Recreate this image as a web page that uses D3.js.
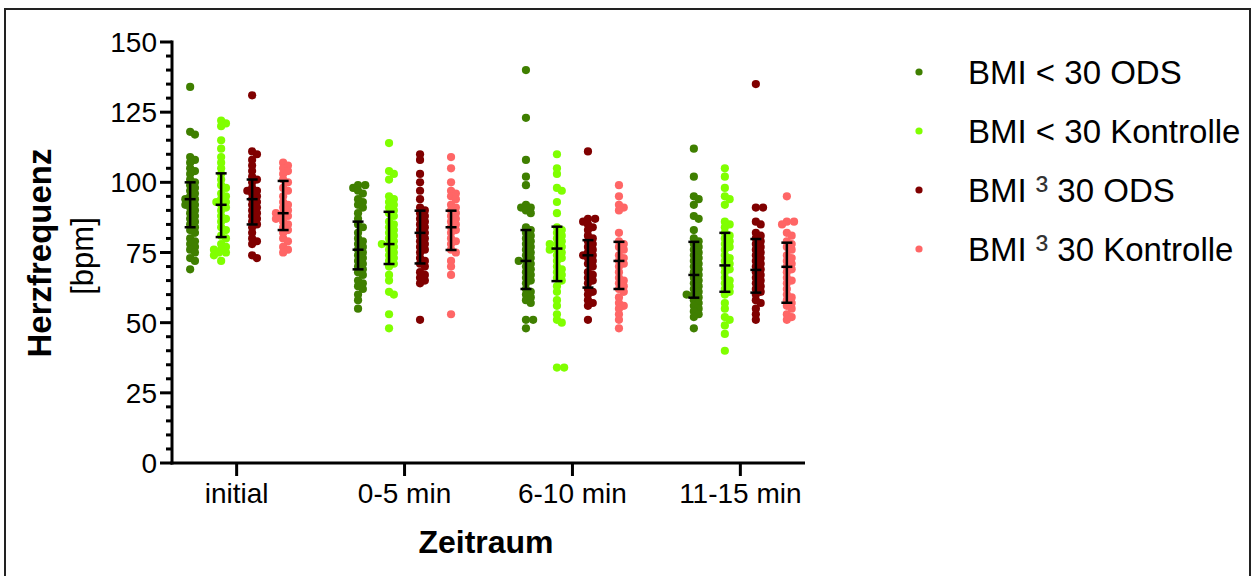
<!DOCTYPE html>
<html>
<head>
<meta charset="utf-8">
<script src="https://cdn.jsdelivr.net/npm/d3@7"></script>
<style>
  body { margin: 0; background: #fff; }
  svg { display: block; font-family: 'Liberation Sans', Arial, sans-serif; }
</style>
</head>
<body>
<div id="vis"></div>
<script>
// categories and series
var periods = ['initial', '0-5 min', '6-10 min', '11-15 min'];
var seriesNames = ['BMI < 30 ODS', 'BMI < 30 Kontrolle', 'BMI \u00B3 30 ODS', 'BMI \u00B3 30 Kontrolle'];
var seriesColors = ['#3f7f00', '#80ff00', '#800000', '#ff6666'];
var yTicks = [0, 25, 50, 75, 100, 125, 150];

// heart rate values (bpm), one array per series, one list per period
var bmiLowOds = [
  [134, 118, 117, 109, 108, 107, 105, 104, 103, 101, 100, 99, 98, 97, 96, 95, 94, 94, 93, 92, 92, 91, 90, 89, 88, 87, 86, 85, 84, 83, 82, 80, 79, 78, 77, 76, 75, 73, 72, 69],
  [99, 99, 98, 97, 96, 94, 93, 92, 91, 89, 87, 85, 84, 82, 80, 79, 78, 77, 76, 75, 74, 73, 72, 71, 70, 69, 68, 67, 65, 64, 63, 62, 60, 58, 55],
  [140, 123, 108, 102, 99, 92, 91, 91, 90, 89, 84, 83, 82, 81, 80, 79, 78, 77, 76, 75, 74, 73, 72, 72, 71, 70, 69, 68, 67, 66, 65, 64, 62, 61, 60, 59, 58, 57, 51, 51, 48],
  [112, 102, 95, 94, 92, 88, 87, 83, 80, 79, 78, 77, 76, 75, 74, 73, 72, 71, 70, 69, 68, 67, 66, 65, 64, 63, 62, 61, 60, 60, 59, 58, 57, 56, 55, 54, 53, 52, 48]
];
var bmiLowKontrolle = [
  [122, 121, 120, 115, 112, 109, 107, 105, 103, 101, 99, 98, 96, 95, 94, 93, 93, 92, 91, 90, 88, 87, 86, 84, 83, 81, 80, 78, 77, 76, 76, 75, 75, 74, 72],
  [114, 104, 103, 101, 95, 94, 93, 92, 91, 90, 89, 88, 86, 85, 84, 83, 82, 81, 80, 79, 78, 78, 77, 76, 75, 74, 73, 72, 71, 70, 67, 65, 61, 60, 53, 48],
  [110, 105, 103, 98, 97, 93, 89, 84, 83, 82, 81, 80, 79, 78, 78, 77, 76, 76, 75, 74, 73, 72, 70, 69, 68, 67, 66, 65, 63, 61, 58, 56, 53, 51, 50, 34, 34],
  [105, 102, 98, 95, 94, 92, 86, 85, 84, 82, 81, 80, 79, 78, 77, 76, 74, 73, 72, 71, 70, 69, 68, 66, 65, 64, 63, 62, 61, 60, 57, 55, 52, 51, 49, 46, 40]
];
var bmiHighOds = [
  [131, 111, 110, 108, 106, 104, 102, 101, 100, 98, 97, 97, 96, 95, 94, 93, 92, 91, 90, 89, 88, 87, 86, 85, 84, 82, 80, 79, 78, 74, 73],
  [110, 108, 103, 100, 97, 94, 91, 90, 89, 88, 87, 86, 85, 84, 83, 82, 81, 80, 79, 78, 77, 76, 75, 73, 72, 71, 70, 68, 67, 66, 65, 64, 51],
  [111, 87, 87, 86, 85, 84, 83, 81, 80, 79, 78, 77, 76, 75, 74, 74, 73, 72, 71, 70, 68, 67, 66, 65, 64, 62, 61, 60, 58, 57, 56, 51],
  [135, 91, 91, 86, 85, 82, 81, 80, 79, 78, 77, 76, 75, 74, 73, 72, 71, 70, 69, 68, 67, 66, 65, 64, 63, 62, 61, 60, 58, 57, 55, 53, 51]
];
var bmiHighKontrolle = [
  [107, 106, 105, 104, 103, 101, 100, 98, 97, 95, 93, 92, 91, 90, 89, 89, 88, 88, 87, 86, 85, 84, 83, 82, 80, 79, 77, 76, 75],
  [109, 105, 100, 97, 96, 95, 94, 92, 91, 90, 89, 88, 87, 86, 85, 84, 83, 82, 80, 79, 78, 76, 75, 72, 70, 67, 53],
  [99, 95, 92, 91, 90, 82, 79, 78, 77, 76, 74, 73, 72, 71, 70, 68, 66, 65, 64, 63, 62, 61, 59, 57, 56, 55, 53, 51, 48],
  [95, 86, 86, 85, 82, 81, 79, 78, 77, 76, 74, 73, 72, 71, 70, 69, 68, 66, 65, 64, 62, 60, 59, 58, 57, 56, 55, 53, 52, 51]
];

// median and interquartile range [series][period]
var medians = [[94, 76, 72, 67], [92, 78, 76.4, 70.4], [94, 82, 74, 68.8], [89, 84, 72, 69.9]];
var lowerQ = [[84, 69, 62, 58.9], [80.5, 70.9, 64.8, 61], [85, 71.1, 62.5, 60.7], [83, 75.9, 62, 57.1]];
var upperQ = [[100, 86, 83, 78.8], [103.2, 89.5, 84.2, 82], [101, 89.9, 79.4, 79.8], [100.5, 89.9, 78.8, 78.5]];

var allValues = [bmiLowOds, bmiLowKontrolle, bmiHighOds, bmiHighKontrolle];

var width = 1255, height = 576;
var margin = { left: 172, top: 42 };
var plotRight = 805;
var dotR = 4.1;

var svg = d3.select('#vis').append('svg')
  .attr('width', width)
  .attr('height', height);

// outer frame
svg.append('rect')
  .attr('x', 5).attr('y', 9)
  .attr('width', 1245).attr('height', 600)
  .attr('fill', 'none')
  .attr('stroke', '#222')
  .attr('stroke-width', 2);

var yScale = d3.scaleLinear().domain([0, 150]).range([463, 42]);
var xScale = d3.scalePoint().domain(periods).range([margin.left, plotRight]).padding(0.385);
var sScale = d3.scaleBand().domain(seriesNames).range([-62, 62]);

// y axis: major + minor ticks
var yAxisG = svg.append('g').attr('transform', 'translate(' + margin.left + ',0)');
yAxisG.selectAll('.minor')
  .data(d3.range(0, 151, 5).filter(function(d) { return d % 25 !== 0; }))
  .enter().append('line')
  .attr('x1', -6).attr('x2', 0)
  .attr('y1', function(d) { return yScale(d); })
  .attr('y2', function(d) { return yScale(d); })
  .attr('stroke', '#000').attr('stroke-width', 3);
yAxisG.selectAll('.major')
  .data(yTicks)
  .enter().append('line')
  .attr('x1', -12).attr('x2', 0)
  .attr('y1', function(d) { return yScale(d); })
  .attr('y2', function(d) { return yScale(d); })
  .attr('stroke', '#000').attr('stroke-width', 3);
yAxisG.selectAll('.lbl')
  .data(yTicks)
  .enter().append('text')
  .attr('x', -15)
  .attr('y', function(d) { return yScale(d); })
  .attr('dy', '0.36em')
  .attr('text-anchor', 'end')
  .attr('font-size', 28)
  .text(function(d) { return d; });
yAxisG.append('line')
  .attr('x1', 0).attr('x2', 0)
  .attr('y1', yScale(150) - 1.5).attr('y2', yScale(0) + 1.5)
  .attr('stroke', '#000').attr('stroke-width', 3);

// x axis
var xAxisG = svg.append('g');
xAxisG.append('line')
  .attr('x1', margin.left - 1.5).attr('x2', plotRight)
  .attr('y1', yScale(0)).attr('y2', yScale(0))
  .attr('stroke', '#000').attr('stroke-width', 3);
xAxisG.selectAll('.tick')
  .data(periods)
  .enter().append('line')
  .attr('x1', function(d) { return xScale(d); })
  .attr('x2', function(d) { return xScale(d); })
  .attr('y1', yScale(0)).attr('y2', yScale(0) + 13)
  .attr('stroke', '#000').attr('stroke-width', 3);
xAxisG.selectAll('.lbl')
  .data(periods)
  .enter().append('text')
  .attr('x', function(d) { return xScale(d); })
  .attr('y', 503)
  .attr('text-anchor', 'middle')
  .attr('font-size', 28)
  .text(function(d) { return d; });

// axis titles
svg.append('text')
  .attr('x', 486).attr('y', 553)
  .attr('text-anchor', 'middle')
  .attr('font-size', 32)
  .attr('font-weight', 'bold')
  .text('Zeitraum');
svg.append('text')
  .attr('transform', 'translate(51,253) rotate(-90)')
  .attr('text-anchor', 'middle')
  .attr('font-size', 33)
  .attr('font-weight', 'bold')
  .text('Herzfrequenz');
svg.append('text')
  .attr('transform', 'translate(93,256) rotate(-90)')
  .attr('text-anchor', 'middle')
  .attr('font-size', 31)
  .text('[bpm]');

// simple beeswarm offsets so that equal values spread sideways
function swarm(values) {
  var minDist = 5, step = 2.4, maxOff = 8;
  var placed = [];
  var sorted = values.slice().sort(function(a, b) { return b - a; });
  sorted.forEach(function(v) {
    var y = yScale(v);
    var cands = [0];
    for (var k = step; k <= maxOff; k += step) { cands.push(k, -k); }
    var best = null, bestD = -1;
    for (var i = 0; i < cands.length; i++) {
      var dmin = Infinity;
      placed.forEach(function(p) {
        var dd = Math.hypot(p.dx - cands[i], p.y - y);
        if (dd < dmin) dmin = dd;
      });
      if (dmin >= minDist) { best = cands[i]; bestD = dmin; break; }
      if (dmin > bestD) { bestD = dmin; best = cands[i]; }
    }
    placed.push({ v: v, y: y, dx: best });
  });
  return placed;
}

var dotsG = svg.append('g');
var barsG = svg.append('g');

seriesNames.forEach(function(name, si) {
  periods.forEach(function(p, pi) {
    var cx = xScale(p) + sScale(name) + sScale.bandwidth() / 2;
    var pts = swarm(allValues[si][pi]);
    dotsG.selectAll(null)
      .data(pts)
      .enter().append('circle')
      .attr('cx', function(d) { return cx + d.dx; })
      .attr('cy', function(d) { return d.y; })
      .attr('r', dotR)
      .attr('fill', seriesColors[si]);

    var hw = 5.5;
    var bar = barsG.append('g').attr('stroke', '#000').attr('stroke-width', 2.5);
    bar.append('line')
      .attr('x1', cx).attr('x2', cx)
      .attr('y1', yScale(upperQ[si][pi])).attr('y2', yScale(lowerQ[si][pi]));
    [upperQ[si][pi], medians[si][pi], lowerQ[si][pi]].forEach(function(v) {
      bar.append('line')
        .attr('x1', cx - hw).attr('x2', cx + hw)
        .attr('y1', yScale(v)).attr('y2', yScale(v));
    });
  });
});

// legend
var legend = svg.append('g')
  .selectAll('g')
  .data(seriesNames)
  .enter().append('g')
  .attr('transform', function(d, i) { return 'translate(919,' + (72 + i * 59) + ')'; });
legend.append('circle')
  .attr('r', 3.6)
  .attr('fill', function(d, i) { return seriesColors[i]; });
var legendText = legend.append('text')
  .attr('x', 49)
  .attr('y', 12)
  .attr('font-size', 33);
// the superscript glyph is drawn a bit larger and lighter, as in the source figure
legendText.each(function(d) {
  var t = d3.select(this);
  var parts = d.split('\u00B3');
  parts.forEach(function(part, i) {
    if (i > 0) {
      t.append('tspan').attr('font-size', 37).attr('fill', '#333').text('\u00B3');
    }
    t.append('tspan').text(part);
  });
});
</script>
</body>
</html>
